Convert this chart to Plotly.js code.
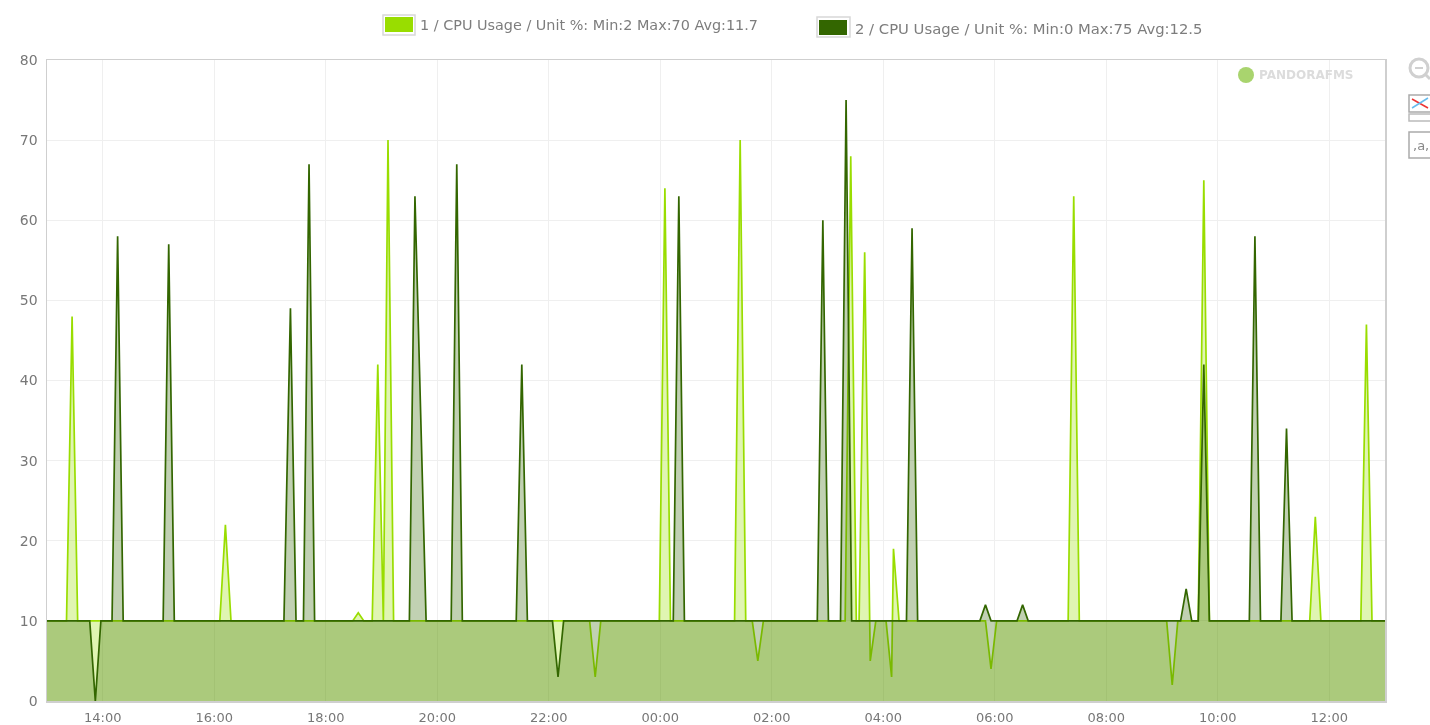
<!DOCTYPE html>
<html>
<head>
<meta charset="utf-8">
<script src="https://cdn.plot.ly/plotly-3.0.1.min.js"></script>
<style>
html,body{margin:0;padding:0;background:#fff;overflow:hidden}
#chart{width:1430px;height:725px;filter:blur(0.6px)}
</style>
</head>
<body>
<div id="chart"></div>
<script>
// Minutes since 13:00 and CPU values
const cpu1Minutes = [0,21,27,33,186,192,198,329,335,341,350,356,362,367,373,584,590,596,659,665,671,740,746,752,759,765,771,859,865,871,874,880,886,892,903,909,911,917,1010,1016,1022,1099,1105,1111,1205,1211,1217,1239,1245,1251,1359,1365,1371,1414,1420,1426,1440];
const cpu1Values  = [10,10,48,10,10,22,10,10,11,10,10,42,10,70,10,10,3,10,10,64,10,10,70,10,10,5,10,10,68,10,10,56,5,10,10,3,19,10,10,4,10,10,63,10,10,2,10,10,65,10,10,23,10,10,47,10,10];
const cpu2Minutes = [0,46,52,58,70,76,82,125,131,137,255,262,268,276,282,288,390,396,408,435,441,447,505,511,517,544,550,556,674,680,686,829,835,841,854,860,866,925,931,937,1004,1010,1016,1044,1050,1056,1220,1226,1232,1239,1245,1251,1294,1300,1306,1328,1334,1340,1440];
const cpu2Values  = [10,10,0,10,10,58,10,10,57,10,10,49,10,10,67,10,10,63,10,10,67,10,10,42,10,10,3,10,10,63,10,10,60,10,10,75,10,10,59,10,10,12,10,10,12,10,10,14,10,10,42,10,10,58,10,10,34,10,10];
const tickMinutes = [60,180,300,420,540,660,780,900,1020,1140,1260,1380];
const tickLabels  = ['14:00','16:00','18:00','20:00','22:00','00:00','02:00','04:00','06:00','08:00','10:00','12:00'];
const yTicks = [0,10,20,30,40,50,60,70,80];
const legend1 = '1 / CPU Usage / Unit %: Min:2 Max:70 Avg:11.7';
const legend2 = '2 / CPU Usage / Unit %: Min:0 Max:75 Avg:12.5';
const watermark = 'PANDORAFMS';

const L=47,R=1385,T=60,B=701;
const px=x=>(x-L)/(R-L), py=y=>(B-y)/(B-T);
const rect=(x0,y0,x1,y1,fill,line,w)=>({type:'rect',xref:'paper',yref:'paper',x0:px(x0),x1:px(x1),y0:py(y0),y1:py(y1),fillcolor:fill||'rgba(0,0,0,0)',line:{color:line||'rgba(0,0,0,0)',width:w||0}});
const circ=(cx,cy,r,fill,line,w)=>({type:'circle',xref:'paper',yref:'paper',x0:px(cx-r),x1:px(cx+r),y0:py(cy+r),y1:py(cy-r),fillcolor:fill||'rgba(0,0,0,0)',line:{color:line||'rgba(0,0,0,0)',width:w||0}});
const seg=(x0,y0,x1,y1,c,w)=>({type:'line',xref:'paper',yref:'paper',x0:px(x0),x1:px(x1),y0:py(y0),y1:py(y1),line:{color:c,width:w}});
const txt=(x,y,t,size,color,anchor,extra)=>Object.assign({xref:'paper',yref:'paper',x:px(x),y:py(y),text:t,showarrow:false,xanchor:anchor||'left',yanchor:'middle',font:{family:'DejaVu Sans',size:size,color:color},borderpad:0},extra||{});

const traces=[
 {x:cpu1Minutes,y:cpu1Values,type:'scatter',mode:'lines',name:'1 / CPU Usage',fill:'tozeroy',fillcolor:'rgba(153,221,0,0.3)',line:{color:'#99dd00',width:1.7},hoverinfo:'x+y'},
 {x:cpu2Minutes,y:cpu2Values,type:'scatter',mode:'lines',name:'2 / CPU Usage',fill:'tozeroy',fillcolor:'rgba(51,102,0,0.3)',line:{color:'#336600',width:1.7},hoverinfo:'x+y'}
];
const layout={
 width:1430,height:725,autosize:false,showlegend:false,paper_bgcolor:'#fff',plot_bgcolor:'#fff',
 margin:{l:L,r:1430-R,t:T,b:725-B,pad:0},
 font:{family:'DejaVu Sans',color:'#777'},
 xaxis:{range:[0,1440],tickmode:'array',tickvals:tickMinutes,ticktext:tickLabels,showgrid:true,gridcolor:'#efefef',gridwidth:1,zeroline:false,showline:true,linecolor:'#cfcfcf',linewidth:1.5,mirror:true,ticks:'',tickfont:{size:13,color:'#777'},ticklabelstandoff:4},
 yaxis:{range:[0,80],tickmode:'array',tickvals:yTicks,showgrid:true,gridcolor:'#efefef',gridwidth:1,zeroline:false,showline:true,linecolor:'#cfcfcf',linewidth:1.5,mirror:true,ticks:'',tickfont:{size:14,color:'#777'},ticklabelstandoff:5},
 shapes:[
  rect(383,15,415,35,'#fff','#d8d8d8',1.5), rect(385,17,413,32,'#99dd00'),
  rect(817,17,850,37,'#fff','#d8d8d8',1.5), rect(819,20,847,35,'#336600'),
  circ(1246,75,8,'#a9d46e'),
  circ(1419,68,9,'#fff','#d0d0d0',3), seg(1415,68,1423,68,'#c0c0c0',1.5), seg(1426,75,1430,79,'#d0d0d0',3),
  rect(1409,95,1432,112,'#fff','#aaaaaa',1.5), seg(1412,99,1428,108,'#ee3333',1.5), seg(1412,108,1428,98,'#66bbee',1.5),
  rect(1409,114,1432,121,'#fff','#bbbbbb',1.5),
  rect(1409,132,1432,158,'#fff','#aaaaaa',1.5)
 ],
 annotations:[
  txt(419,25,legend1,14.4,'#7d7d7d'),
  txt(854,28,legend2,14.8,'#7d7d7d'),
  txt(1258,75,watermark,12,'#dcdcdc','left',{font:{family:'DejaVu Sans',size:12,color:'#dcdcdc',weight:700}}),
  txt(1412,145,',a,',13,'#888')
 ]
};
Plotly.newPlot('chart',traces,layout,{displayModeBar:false,staticPlot:true});
</script>
</body>
</html>
